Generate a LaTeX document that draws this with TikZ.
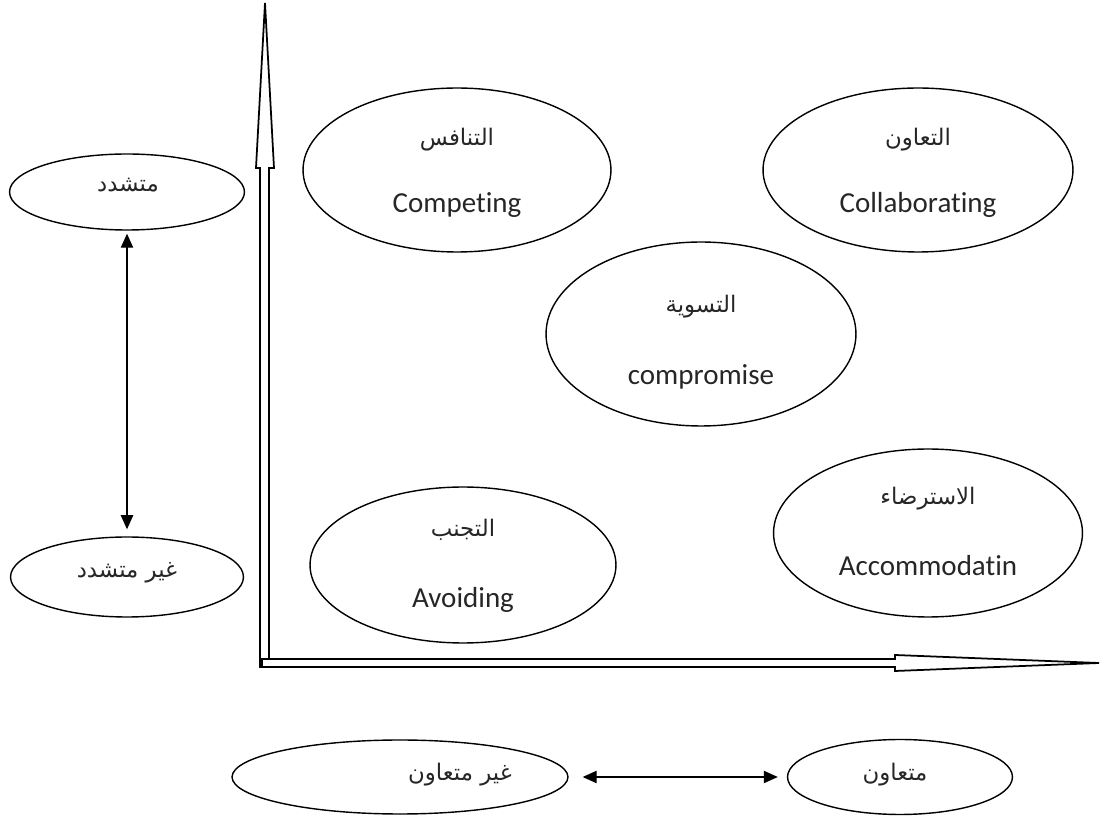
\documentclass[tikz,border=0pt]{standalone}
\usepackage{fontspec}
\setmainfont{Carlito}[Ligatures={NoCommon}]
\newfontfamily\arabicfont[Script=Arabic]{DejaVu Sans}
\TeXXeTstate=1
\usetikzlibrary{arrows.meta,positioning,calc,shapes.geometric}
\definecolor{textgray}{RGB}{38,38,38}

\begin{document}
\begin{tikzpicture}[x=0.02cm,y=-0.02cm,
    styleblob/.style={draw,ellipse,line width=0.8pt,inner sep=0pt},
    entext/.style={font=\fontsize{16.5}{20}\selectfont,text=textgray},
    artext/.style={font=\fontsize{13}{16}\selectfont\arabicfont,text=textgray},
    dblarrow/.style={{Triangle[length=8pt,width=7pt]}-{Triangle[length=8pt,width=7pt]},line width=0.7pt}]
    \useasboundingbox (0,0) rectangle (1100,820);

    % Axes
    \draw[line width=1pt,fill=white] (260,667) -- (260,168) -- (256,168) -- (265,3) -- (274,168) -- (269,168) -- (269,667) -- cycle;
    \draw[line width=1pt,fill=white] (262,659) -- (895,659) -- (895,655) -- (1099,663) -- (895,671) -- (895,667) -- (262,667) -- cycle;

    % Styles
    \node[styleblob,minimum width=6.16cm,minimum height=3.28cm] (compete) at (457,170) {};
    \node[artext] (competeAr) at (457,140) {\beginR التنافس\endR};
    \node[entext] (competeEn) at (457,205) {Competing};

    \node[styleblob,minimum width=6.2cm,minimum height=3.28cm] (collab) at (918,170) {};
    \node[artext] (collabAr) at (918,140) {\beginR التعاون\endR};
    \node[entext] (collabEn) at (918,205) {Collaborating};

    \node[styleblob,minimum width=6.2cm,minimum height=3.68cm] (comprom) at (701,334) {};
    \node[artext] (compromAr) at (701,307) {\beginR التسوية\endR};
    \node[entext] (compromEn) at (701,377) {compromise};

    \node[styleblob,minimum width=6.12cm,minimum height=3.12cm] (avoid) at (463,565) {};
    \node[artext] (avoidAr) at (463,530) {\beginR التجنب\endR};
    \node[entext] (avoidEn) at (463,600) {Avoiding};

    \node[styleblob,minimum width=6.18cm,minimum height=3.36cm] (accom) at (928,533) {};
    \node[artext] (accomAr) at (928,499) {\beginR الاسترضاء\endR};
    \node[entext] (accomEn) at (928,566) {Accommodatin};

    % Assertiveness scale
    \node[styleblob,minimum width=4.7cm,minimum height=1.52cm] (hard) at (127,192) {};
    \node[artext] (hardAr) at (128,185) {\beginR متشدد\endR};
    \node[styleblob,minimum width=4.66cm,minimum height=1.6cm] (soft) at (127,577) {};
    \node[artext] (softAr) at (127,573) {\beginR غير متشدد\endR};
    \draw[dblarrow,shorten <=0.06cm,shorten >=0.14cm] (hard) -- (soft);

    % Cooperativeness scale
    \node[styleblob,minimum width=6.72cm,minimum height=1.48cm] (noncoop) at (400,777) {};
    \node[artext] (noncoopAr) at (460,775) {\beginR غير متعاون\endR};
    \node[styleblob,minimum width=4.5cm,minimum height=1.5cm] (coop) at (900,777) {};
    \node[artext] (coopAr) at (895,775) {\beginR متعاون\endR};
    \draw[dblarrow,shorten <=0.28cm,shorten >=0.18cm] (noncoop) -- (coop);
\end{tikzpicture}
\end{document}
